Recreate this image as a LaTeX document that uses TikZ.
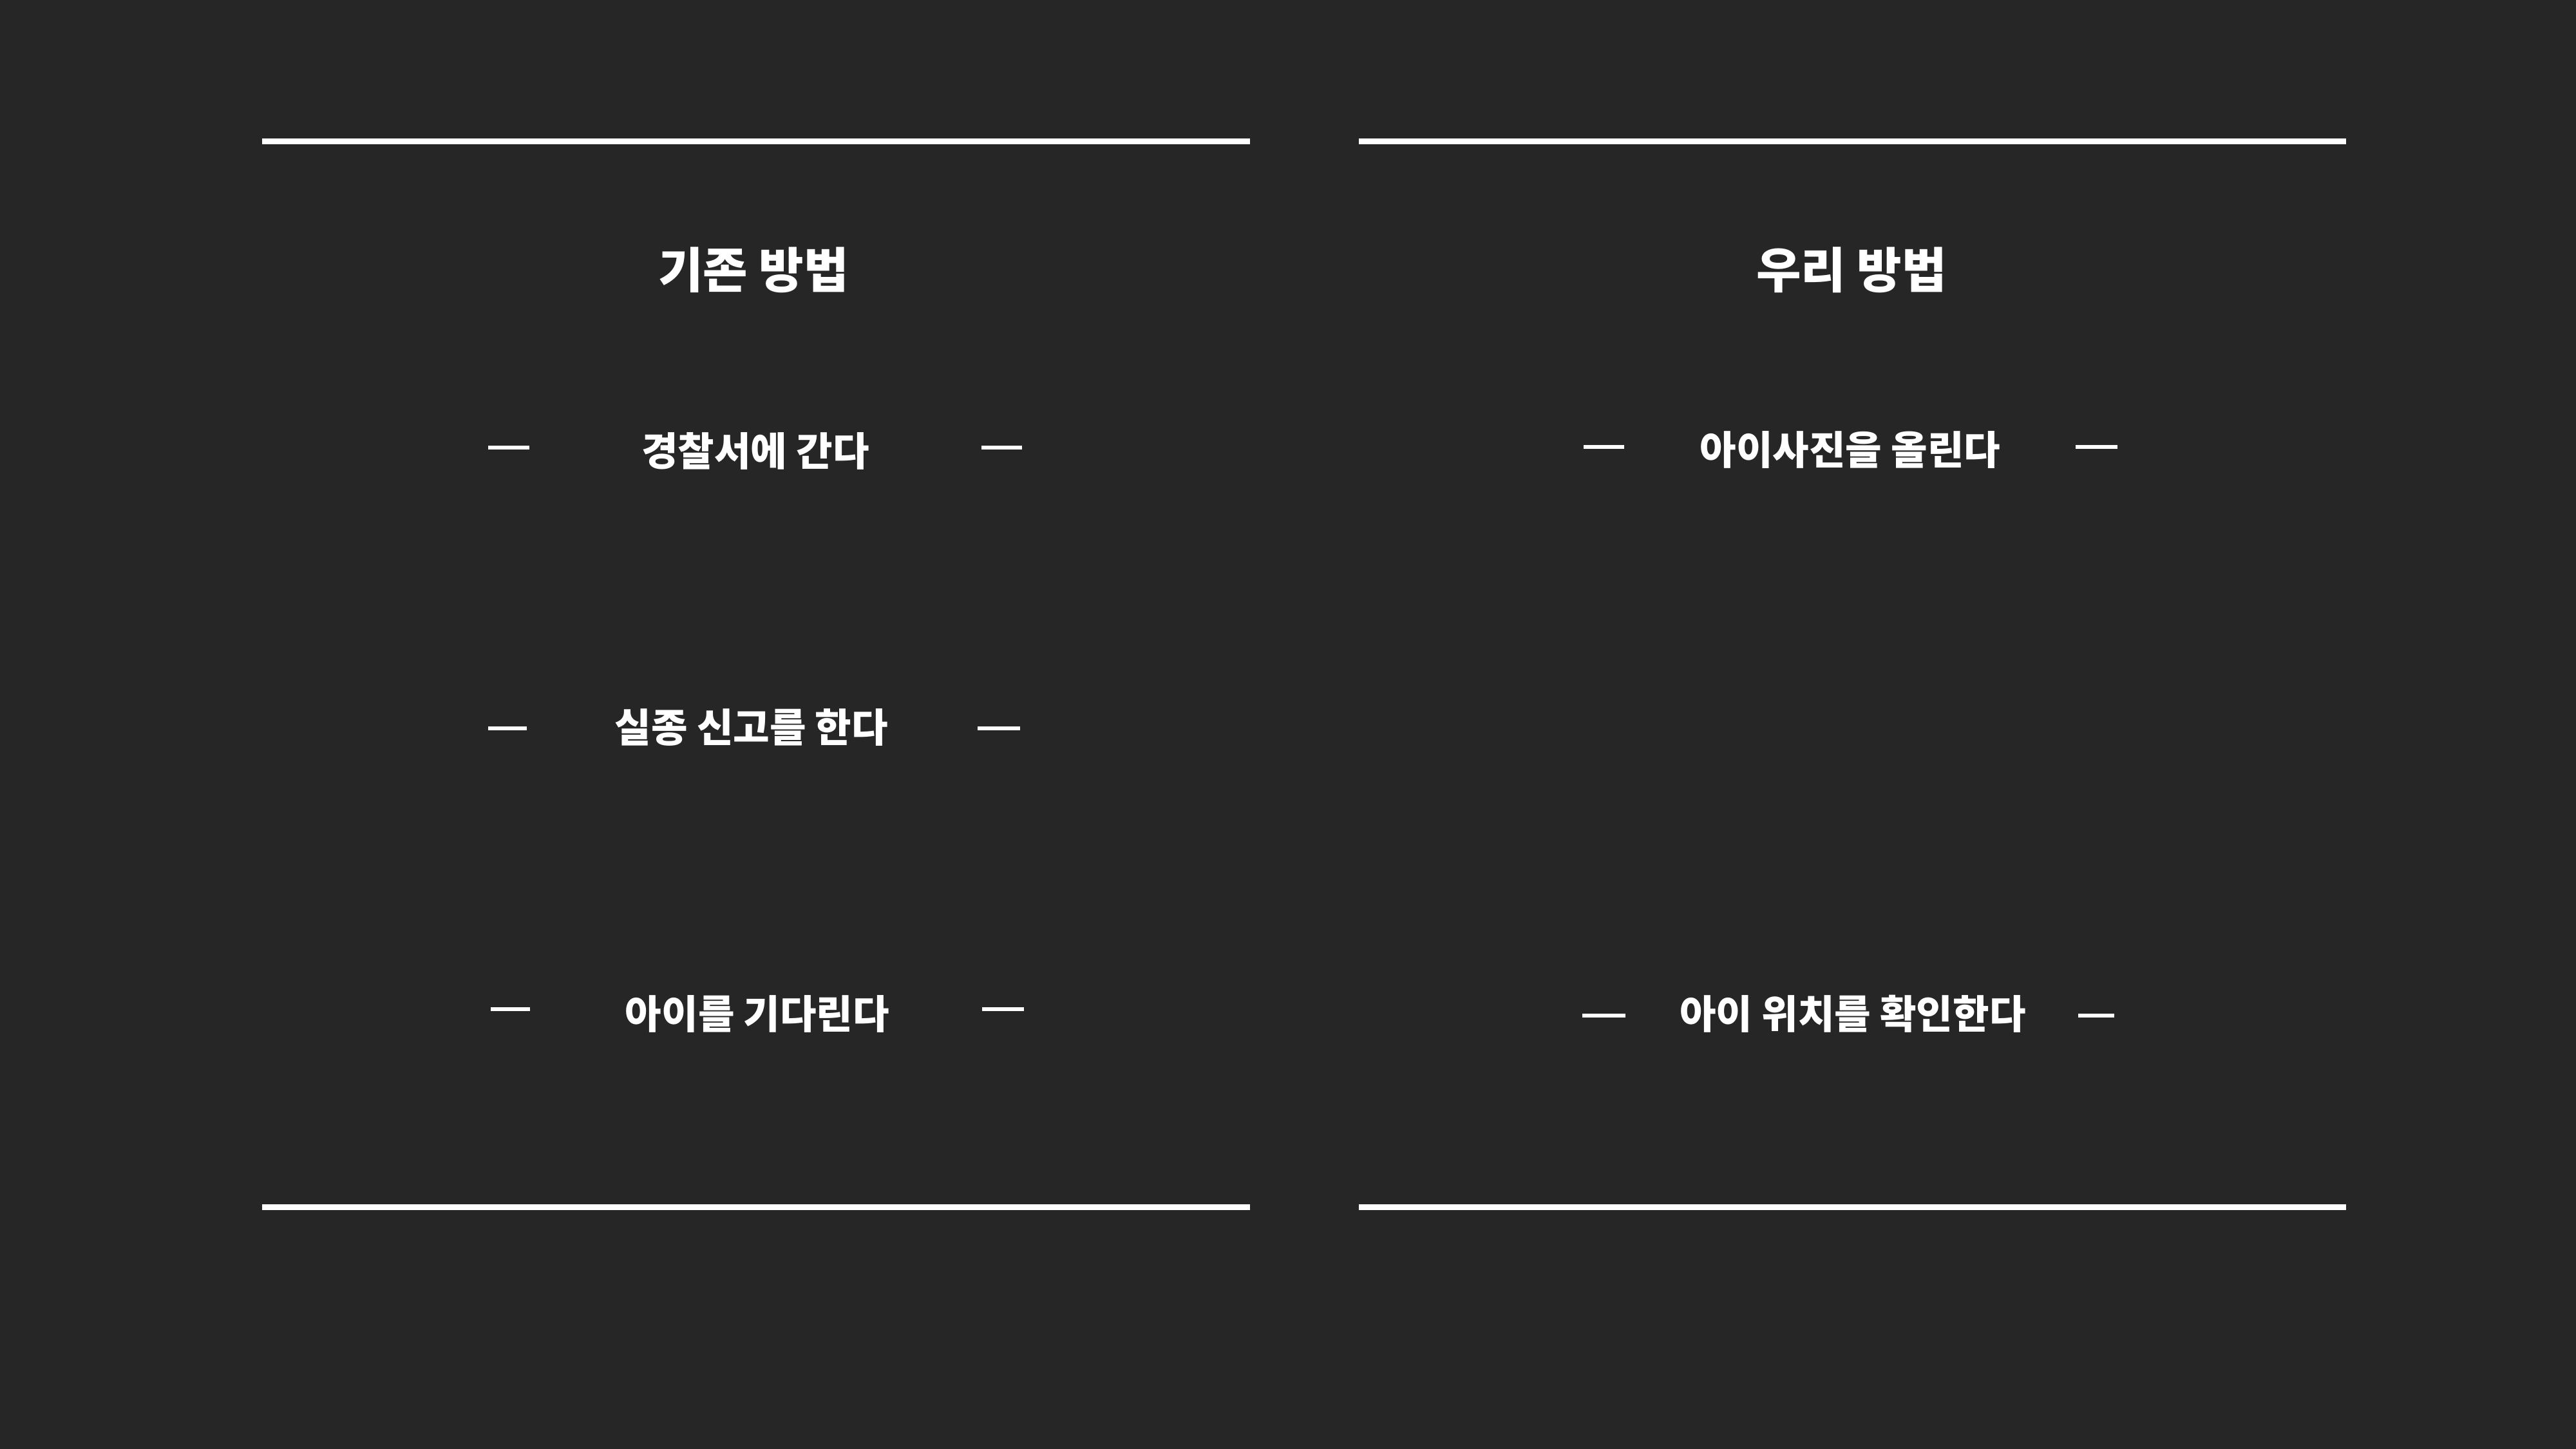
\documentclass[tikz,border=0pt]{standalone}
\usepackage{fontspec}
\newfontfamily\kr{Noto Sans CJK KR}
\definecolor{bgdark}{HTML}{262626}
\begin{document}
\begin{tikzpicture}[
  rule/.style={white,line width=0.09cm},
  tick/.style={white,line width=0.06cm},
  head/.style={white,anchor=base,font=\kr\bfseries\fontsize{21.5pt}{24pt}\selectfont},
  item/.style={white,anchor=base,font=\kr\bfseries\fontsize{17.5pt}{20pt}\selectfont}]
  \fill[bgdark](0,0)rectangle(40,-22.5);
  \useasboundingbox(0,0)rectangle(40,-22.5);
  % frame lines
  \draw[rule](4.07,-2.2) -- (19.41,-2.2);
  \draw[rule](21.10,-2.2) -- (36.43,-2.2);
  \draw[rule](4.07,-18.74) -- (19.41,-18.74);
  \draw[rule](21.10,-18.74) -- (36.43,-18.74);
  % old way
  \node[head](oldT) at (11.70,-4.48){기존 방법};
  \node[item](old1) at (11.73,-7.24){경찰서에 간다};
  \node[item](old2) at (11.67,-11.53){실종 신고를 한다};
  \node[item](old3) at (11.76,-15.97){아이를 기다린다};
  \draw[tick](7.58,-6.95) -- (8.22,-6.95);
  \draw[tick](15.24,-6.95) -- (15.87,-6.95);
  \draw[tick](7.58,-11.31) -- (8.18,-11.31);
  \draw[tick](15.18,-11.31) -- (15.84,-11.31);
  \draw[tick](7.62,-15.67) -- (8.23,-15.67);
  \draw[tick](15.25,-15.67) -- (15.90,-15.67);
  % our way
  \node[head](newT) at (28.75,-4.48){우리 방법};
  \node[item](new1) at (28.73,-7.22){아이사진을 올린다};
  \node[item](new2) at (28.77,-15.97){아이 위치를 확인한다};
  \draw[tick](24.59,-6.94) -- (25.22,-6.94);
  \draw[tick](32.23,-6.94) -- (32.88,-6.94);
  \draw[tick](24.57,-15.77) -- (25.24,-15.77);
  \draw[tick](32.27,-15.77) -- (32.83,-15.77);
\end{tikzpicture}
\end{document}
